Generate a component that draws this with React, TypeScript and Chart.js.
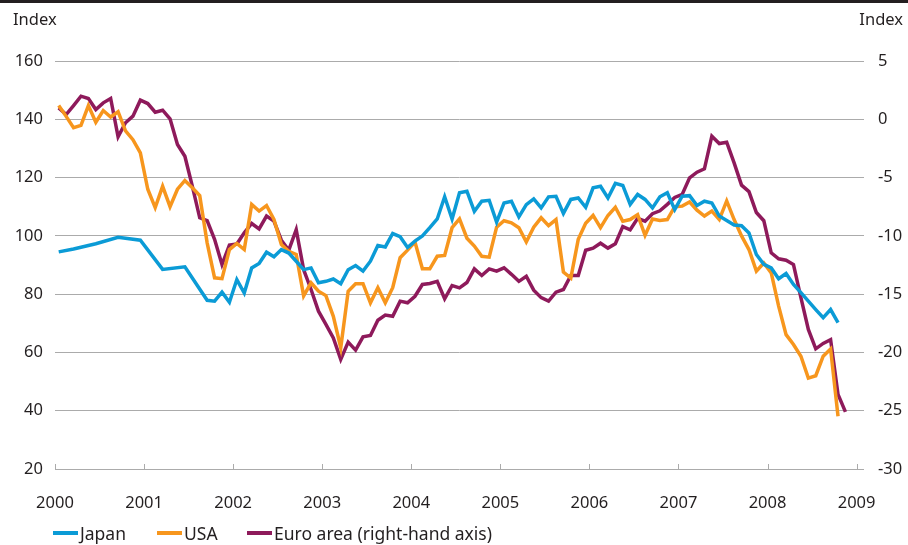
import React, { useEffect, useRef } from "react";
import { Chart, registerables } from "chart.js";

Chart.register(...registerables);

// Monthly observations starting January 2000 (null = no observation)
const START_YEAR = 2000;

const japan: (number | null)[] = [
  94.5, null, 95.5, null, null, 97.3, null, null, 99.5, null, null, 98.5,
  null, null, 88.5, null, null, 89.4, null, null, 77.9, 77.6, 80.7, 77.2,
  85.0, 80.4, 89.0, 90.5, 94.4, 92.8, 95.3, 94.1, 91.3, 88.4, 89.0, 83.9,
  84.4, 85.2, 83.6, 88.4, 89.8, 87.9, 91.3, 96.7, 96.2, 100.8, 99.7, 96.0,
  98.2, 100.0, 102.8, 105.8, 113.4, 105.8, 114.8, 115.3, 108.4, 111.9, 112.2, 104.7,
  111.3, 111.9, 106.5, 110.7, 112.7, 109.6, 113.4, 113.6, 107.7, 112.5, 113.0, 109.8,
  116.5, 117.0, 113.0, 118.0, 117.3, 110.8, 114.2, 112.5, 109.6, 113.4, 114.8, 109.0,
  113.6, 113.8, 110.4, 111.9, 111.3, 106.8, 105.3, 103.7, 103.5, 101.0, 93.6, 90.2,
  89.0, 85.3, 87.1, 83.3, 80.5, 77.6, 74.7, 71.9, 74.7, 70.2,
];

const usa: number[] = [
  144.7, 141.0, 137.1, 137.9, 144.7, 139.0, 143.0, 140.8, 142.6, 136.0, 133.0, 128.5,
  116.0, 109.7, 117.0, 110.0, 116.0, 119.0, 116.5, 113.8, 97.6, 85.6, 85.3, 95.3,
  97.4, 95.3, 110.8, 108.5, 110.4, 105.6, 97.0, 94.7, 93.6, 79.4, 83.9, 81.0,
  79.5, 72.4, 61.6, 81.0, 83.6, 83.6, 77.0, 82.2, 77.0, 82.2, 92.5, 95.1,
  97.9, 88.7, 88.7, 93.0, 93.3, 102.8, 105.8, 99.2, 96.5, 93.0, 92.7, 103.0,
  105.2, 104.5, 102.8, 97.9, 103.0, 106.2, 103.5, 105.6, 87.6, 85.5, 98.8, 104.3,
  107.0, 102.8, 107.0, 109.8, 105.0, 105.6, 107.3, 100.2, 105.8, 105.3, 105.6, 110.0,
  110.2, 111.6, 108.8, 106.8, 108.5, 105.6, 112.0, 105.6, 100.0, 95.3, 87.9, 90.7,
  87.3, 75.9, 66.1, 62.7, 58.7, 51.2, 52.0, 58.7, 61.2, 38.1,
];

const euroArea: number[] = [
  0.98, 0.41, 1.18, 1.98, 1.78, 0.84, 1.41, 1.78, -1.5, -0.3, 0.27, 1.64,
  1.35, 0.61, 0.78, 0.04, -2.16, -3.17, -5.74, -8.45, -8.7, -10.3, -12.46, -10.8,
  -10.7, -9.74, -8.94, -9.4, -8.3, -8.74, -10.37, -11.23, -9.46, -12.9, -14.6, -16.46,
  -17.6, -18.75, -20.6, -19.12, -19.8, -18.66, -18.55, -17.24, -16.8, -16.9, -15.6, -15.74,
  -15.18, -14.17, -14.09, -13.9, -15.4, -14.26, -14.46, -14.0, -12.83, -13.4, -12.83, -13.03,
  -12.74, -13.3, -13.9, -13.46, -14.66, -15.3, -15.6, -14.83, -14.6, -13.4, -13.4, -11.23,
  -11.05, -10.63, -11.05, -10.67, -9.2, -9.48, -8.5, -8.74, -8.1, -7.85, -7.3, -6.7,
  -6.45, -5.02, -4.54, -4.25, -1.45, -2.08, -1.97, -3.74, -5.65, -6.2, -8.0, -8.7,
  -11.46, -11.97, -12.09, -12.46, -15.3, -18.03, -19.69, -19.23, -18.9, -23.6, -25.1,
];

const yearTicks = [2000, 2001, 2002, 2003, 2004, 2005, 2006, 2007, 2008, 2009];
const seriesLabels = ["Japan", "USA", "Euro area (right-hand axis)"];
const seriesColors = ["#0b9bd6", "#f7961d", "#8e1a5b"];

const TEXT = "#231f20";
const GRID = "#ababab";
const FONT = '"Noto Sans", "Open Sans", sans-serif';

const toPoints = (vals: (number | null)[]) =>
  vals.map((v, i) => ({ x: START_YEAR + (i + 0.5) / 12, y: v }));

const decorPlugin = {
  id: "decor",
  beforeDraw(chart: any) {
    const ctx = chart.ctx;
    ctx.save();
    ctx.fillStyle = TEXT;
    ctx.fillRect(0, 0, chart.width, 3);
    ctx.font = `16.5px ${FONT}`;
    ctx.textBaseline = "alphabetic";
    ctx.textAlign = "left";
    ctx.fillText("Index", 13, 25);
    ctx.textAlign = "right";
    ctx.fillText("Index", 903, 25);
    ctx.restore();
  },
  beforeDatasetsDraw(chart: any) {
    const ctx = chart.ctx;
    const xs = chart.scales.x;
    const bottom = chart.chartArea.bottom;
    ctx.save();
    ctx.strokeStyle = GRID;
    ctx.lineWidth = 1;
    yearTicks.forEach((yr) => {
      const px = Math.round(xs.getPixelForValue(yr)) + 0.5;
      ctx.beginPath();
      ctx.moveTo(px, bottom);
      ctx.lineTo(px, bottom - 5);
      ctx.stroke();
    });
    ctx.restore();
  },
};

export default function App() {
  const ref = useRef<HTMLCanvasElement | null>(null);

  useEffect(() => {
    if (!ref.current) return;
    const chart = new Chart(ref.current, {
      type: "line",
      data: {
        datasets: [
          {
            label: seriesLabels[0],
            data: toPoints(japan),
            borderColor: seriesColors[0],
            yAxisID: "y",
            spanGaps: true,
          },
          {
            label: seriesLabels[1],
            data: toPoints(usa),
            borderColor: seriesColors[1],
            yAxisID: "y",
          },
          {
            label: seriesLabels[2],
            data: toPoints(euroArea),
            borderColor: seriesColors[2],
            yAxisID: "y2",
          },
        ] as any,
      },
      options: {
        animation: false,
        responsive: false,
        devicePixelRatio: 1,
        layout: { padding: { top: 61, bottom: 0, left: 0, right: 0 } },
        elements: {
          point: { radius: 0 },
          line: { borderWidth: 3.5, tension: 0, borderJoinStyle: "miter", borderCapStyle: "butt" },
        },
        plugins: {
          legend: { display: false },
          tooltip: { enabled: false },
        },
        scales: {
          x: {
            type: "linear",
            min: 2000,
            max: 2009 + 1 / 12,
            grid: { display: false },
            border: { display: false },
            afterBuildTicks: (scale: any) => {
              scale.ticks = yearTicks.map((v) => ({ value: v }));
            },
            afterFit: (scale: any) => {
              scale.height = 76;
            },
            ticks: {
              autoSkip: false,
              maxRotation: 0,
              padding: 16,
              color: TEXT,
              font: { family: FONT, size: 16.5 },
              callback: (v: any) => String(v),
            },
          },
          y: {
            position: "left",
            min: 20,
            max: 160,
            grid: { color: GRID, lineWidth: 1, drawTicks: false },
            border: { display: false },
            afterFit: (scale: any) => {
              scale.width = 55;
            },
            ticks: {
              stepSize: 20,
              padding: 12,
              color: TEXT,
              font: { family: FONT, size: 16.5 },
            },
          },
          y2: {
            position: "right",
            min: -30,
            max: 5,
            grid: { display: false, drawTicks: false },
            border: { display: false },
            afterFit: (scale: any) => {
              scale.width = 44;
            },
            ticks: {
              stepSize: 5,
              padding: 14,
              color: TEXT,
              font: { family: FONT, size: 16.5 },
            },
          },
        },
      } as any,
      plugins: [decorPlugin],
    });
    return () => chart.destroy();
  }, []);

  const legendLeft = [53, 157, 247];

  return (
    <div
      style={{
        position: "absolute",
        left: 0,
        top: 0,
        width: 908,
        height: 545,
        background: "#fff",
        overflow: "hidden",
      }}
    >
      <canvas ref={ref} width={908} height={545} style={{ display: "block" }} />
      {seriesLabels.map((lab, i) => (
        <div
          key={lab}
          style={{
            position: "absolute",
            left: legendLeft[i],
            top: 522,
            height: 22,
            display: "flex",
            alignItems: "center",
            fontFamily: FONT,
            fontSize: 17.5,
            color: TEXT,
            whiteSpace: "nowrap",
          }}
        >
          <span
            style={{
              display: "inline-block",
              width: 25,
              height: 4,
              background: seriesColors[i],
              marginRight: 2,
            }}
          />
          <span>{lab}</span>
        </div>
      ))}
    </div>
  );
}
